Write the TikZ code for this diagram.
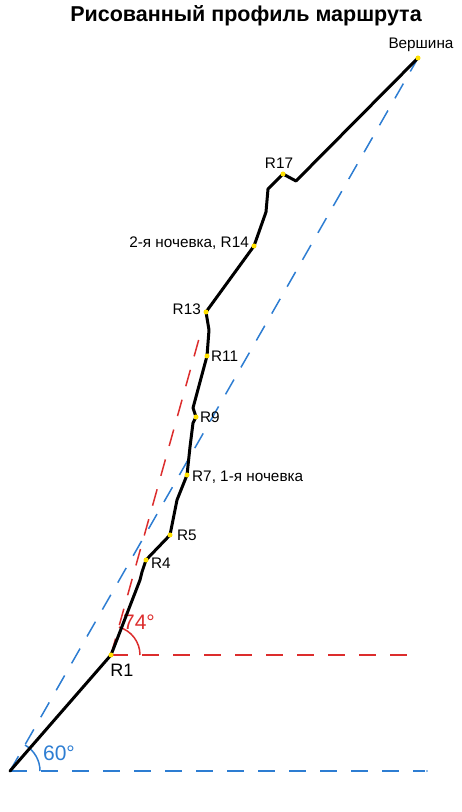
\documentclass[tikz,border=0pt]{standalone}
\usepackage{fontspec}
\setmainfont{Liberation Sans}
\usetikzlibrary{positioning}
\definecolor{routeblue}{RGB}{45,125,210}
\definecolor{routered}{RGB}{220,45,45}
\definecolor{pointyellow}{RGB}{255,225,0}

\begin{document}
\begin{tikzpicture}[x=1pt, y=1pt,
  route/.style={line width=3pt, line join=round, line cap=round},
  guide/.style={line width=1.5pt, dash pattern=on 17pt off 14pt},
  pt/.style={circle, fill=pointyellow, inner sep=0pt, minimum size=5pt},
  lbl/.style={font=\fontsize{15.3}{17}\selectfont, inner sep=1pt}]
\useasboundingbox (0,0) rectangle (461,812);

% title
\node[font=\fontsize{21.5}{24}\selectfont\bfseries] (title) at (246,796) {Рисованный профиль маршрута};

% points of the route
\coordinate (S) at (10,41);
\coordinate (R1) at (111,157);
\coordinate (a1) at (140,232);
\coordinate (a2) at (142,240);
\coordinate (R4) at (146,252);
\coordinate (R5) at (170,277);
\coordinate (a3) at (177,312);
\coordinate (R7) at (187,337);
\coordinate (a4) at (190,365);
\coordinate (a5) at (193,389);
\coordinate (R9) at (196,395);
\coordinate (a6) at (193,404);
\coordinate (R11) at (207,456);
\coordinate (a7) at (209,482);
\coordinate (R13) at (206,500);
\coordinate (R14) at (254,566);
\coordinate (a8) at (266,600);
\coordinate (a9) at (268,623);
\coordinate (R17) at (283,638);
\coordinate (a10) at (296,631);
\coordinate (V) at (418,754);

% guide lines
\coordinate (bEnd) at (425,41);
\coordinate (rEnd) at (415,157);
\coordinate (rTop) at (202,484);
\draw[guide, routeblue] (S) -- (bEnd);
\fill[routeblue] (427,41) circle (0.8);
\draw[guide, routeblue] (S) -- (V);
\draw[guide, routered] (R1) -- (rEnd);
\draw[guide, routered] (R1) -- (rTop);

% angles
\draw[routered, line width=1.5pt] ([shift={(0:29)}]R1) arc[start angle=0, end angle=74, radius=29];
\draw[routeblue, line width=1.5pt] ([shift={(0:30)}]S) arc[start angle=0, end angle=60, radius=30];
\node[font=\fontsize{21}{23}\selectfont, text=routered] (ang74) at (139,190) {74°};
\node[font=\fontsize{21}{23}\selectfont, text=routeblue] (ang60) at (59,59) {60°};

% route
\draw[route] (S) -- (R1) -- (a1) -- (a2) -- (R4) -- (R5) -- (a3) -- (R7) -- (a4) -- (a5) -- (R9)
  -- (a6) -- (R11) -- (a7) -- (R13) -- (R14) -- (a8) -- (a9) -- (R17) -- (a10) -- (V);

\foreach \p in {R1, R4, R5, R7, R9, R11, R13, R14, R17, V}
  \node[pt] at (\p) {};

% labels
\node[lbl, above=5pt of V, xshift=3pt] (lV) {Вершина};
\node[lbl, above=4pt of R17, xshift=-4pt] (l17) {R17};
\node[lbl, left=4pt of R14, yshift=3pt] (l14) {2-я ночевка, R14};
\node[lbl, left=4pt of R13, yshift=3pt] (l13) {R13};
\node[lbl, right=3pt of R11] (l11) {R11};
\node[lbl, right=3pt of R9] (l9) {R9};
\node[lbl, right=4pt of R7, yshift=-2pt] (l7) {R7, 1-я ночевка};
\node[lbl, right=6pt of R5] (l5) {R5};
\node[lbl, right=4pt of R4, yshift=-3pt] (l4) {R4};
\node[font=\fontsize{18}{20}\selectfont, below=6pt of R1, xshift=11pt] (l1) {R1};
\end{tikzpicture}
\end{document}
